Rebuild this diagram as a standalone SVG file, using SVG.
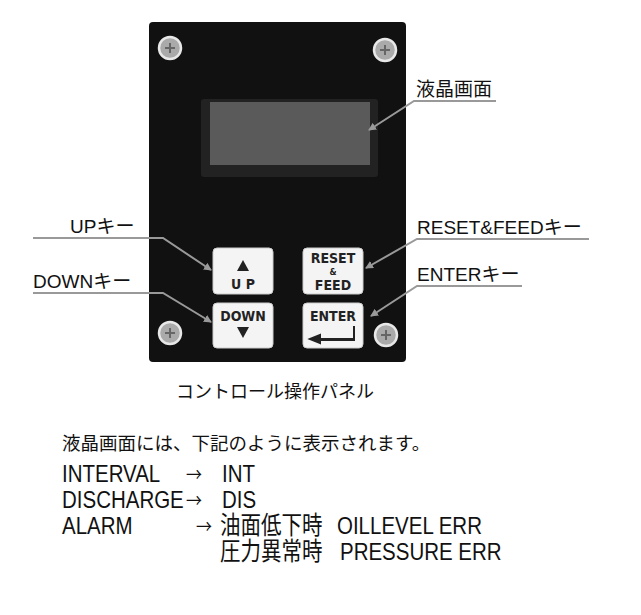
<svg xmlns="http://www.w3.org/2000/svg" width="641" height="615" viewBox="0 0 641 615">
<style>
text{font-family:"Liberation Sans","Noto Sans CJK JP",sans-serif;fill:#111}
.lb{font-size:19px}
.ar{font-family:"Noto Sans CJK JP",sans-serif}
.ld{stroke:#999;stroke-width:2;fill:none;marker-end:url(#ah)}
.btn{fill:#f4f4f4;stroke:#ccc}
.bt{font-family:"DejaVu Sans Condensed","Liberation Sans",sans-serif;font-size:14px;font-weight:bold;text-anchor:middle;fill:#222}
.sc{fill:#aaa;stroke:#e8e8e8;stroke-width:2.5}
.cr{stroke:#666;stroke-width:2}
</style>
<defs>
<marker id="ah" markerWidth="8" markerHeight="8" refX="7" refY="4" orient="auto" markerUnits="userSpaceOnUse"><path d="M0,0 L8,4 L0,8 Z" fill="#999"/></marker>
</defs>
<rect width="641" height="615" fill="#fff"/>
<g id="panel">
<rect x="149" y="22" width="257" height="340" rx="4" fill="#111"/>
<rect x="201" y="99" width="177" height="78" rx="3" fill="#222"/>
<rect x="210" y="102" width="160" height="63" fill="#5a5a5a"/>
<g class="sc"><circle cx="170" cy="48" r="11"/><circle cx="385" cy="50" r="11"/><circle cx="170" cy="333" r="11"/><circle cx="386" cy="335" r="11"/></g>
<path class="cr" d="M165,48h10M170,43v10M380,50h10M385,45v10M165,333h10M170,328v10M381,335h10M386,330v10"/>
</g>
<g id="up"><rect class="btn" x="213" y="248" width="60" height="46" rx="4"/><path d="M237,271 L243,260 L249,271 Z" fill="#222"/><text class="bt" x="243" y="289">U P</text></g>
<g id="down"><rect class="btn" x="213" y="303" width="60" height="45" rx="4"/><text class="bt" x="243" y="321">DOWN</text><path d="M237,327 L249,327 L243,338 Z" fill="#222"/></g>
<g id="reset"><rect class="btn" x="303" y="248" width="60" height="46" rx="4"/><text class="bt" x="333" y="263">RESET</text><text class="bt" x="333" y="275" style="font-size:9px">&amp;</text><text class="bt" x="333" y="290">FEED</text></g>
<g id="enter"><rect class="btn" x="303" y="303" width="60" height="45" rx="4"/><text class="bt" x="333" y="321">ENTER</text><path d="M354,326 V339 H320 V335 L310,339 L320,343 V340 H354 Z" fill="#222" stroke="#222" stroke-width="2"/></g>
<g id="connectors">
<polyline class="ld" points="496,101 414,101 369,130"/>
<polyline class="ld" points="33,238 163,238 211,270"/>
<polyline class="ld" points="33,293 163,293 211,322"/>
<polyline class="ld" points="589,239 417,239 366,268"/>
<polyline class="ld" points="522,286 417,286 371,316"/>
</g>
<g id="labels">
<text class="lb" x="416" y="96">液晶画面</text>
<text class="lb" x="70" y="233">UPキー</text>
<text class="lb" x="33" y="288">DOWNキー</text>
<text class="lb" x="417" y="234">RESET&amp;FEEDキー</text>
<text class="lb" x="417" y="281">ENTERキー</text>
<text class="lb" x="176" y="398" style="font-size:18px">コントロール操作パネル</text>
</g>
<g id="notes">
<text x="62" y="450" style="font-size:18.5px">液晶画面には、下記のように表示されます。</text>
<g transform="scale(1,1.2)" style="font-size:20.5px">
<text x="62" y="401.7">INTERVAL</text><text x="62" y="423.3">DISCHARGE</text><text x="62" y="445">ALARM</text>
<text class="ar" x="186" y="401.7" style="font-size:16px">→</text><text x="222" y="401.7">INT</text>
<text class="ar" x="186" y="423.3" style="font-size:16px">→</text><text x="222" y="423.3">DIS</text>
<text class="ar" x="196" y="445" style="font-size:16px">→</text><text x="220" y="445">油面低下時</text><text x="337" y="445">OILLEVEL ERR</text>
<text x="220" y="466.7">圧力異常時</text><text x="340" y="466.7">PRESSURE ERR</text>
</g>
</g>
</svg>
